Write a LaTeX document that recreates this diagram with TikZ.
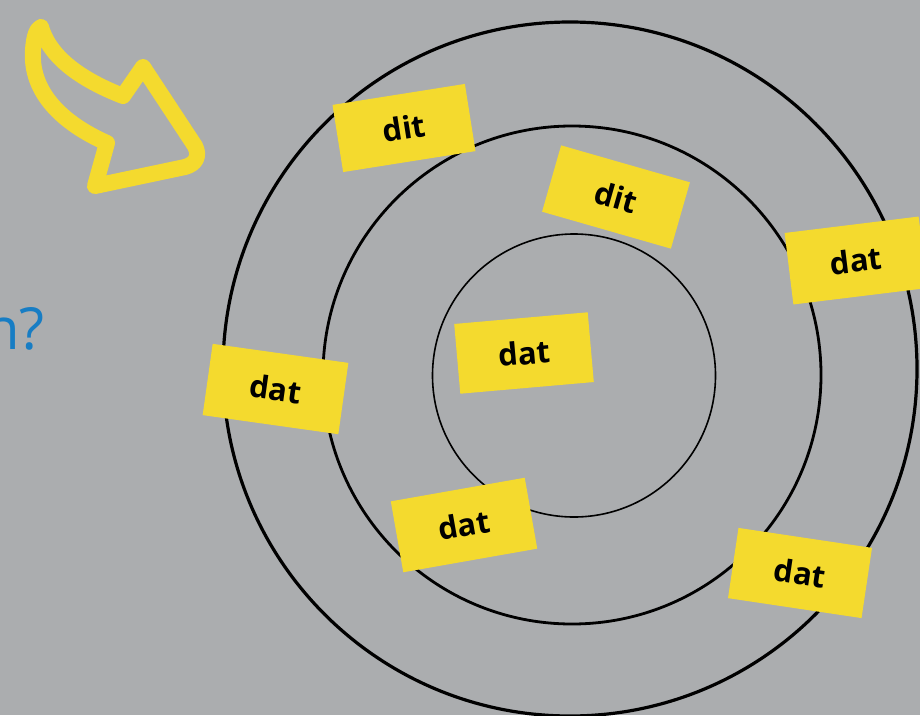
\documentclass[tikz,border=0pt]{standalone}
\usepackage{fontspec}
\setmainfont{Open Sans}
\definecolor{bg}{RGB}{171,173,175}
\definecolor{yel}{RGB}{244,218,46}
\definecolor{qblue}{RGB}{23,125,196}
\begin{document}
\begin{tikzpicture}[x=1pt,y=-1pt,
  card/.style={fill=yel, draw=none, inner sep=0pt, minimum width=135pt, minimum height=71pt,
    font=\fontsize{31}{31}\selectfont\bfseries, text=black},
  ring/.style={draw=black},
  curvearrow/.style={draw=yel, line width=16pt, line join=round, line cap=round}]
\clip (0,0) rectangle (920,715);
\fill[bg] (0,0) rectangle (920,715);
% rings
\draw[ring, line width=3.2pt] (570,369) circle[radius=347pt];
\draw[ring, line width=2.8pt] (572,375) circle[radius=249pt];
\draw[ring, line width=1.6pt] (574,375.5) circle[radius=141.5pt];
% cards
\node[card, rotate=9, minimum width=134pt, minimum height=68pt] (d1) at (404,128) {dit};
\node[card, rotate=-16, minimum width=134pt, minimum height=69pt] (d2) at (616,197) {dit};
\node[card, rotate=7, minimum height=72pt] (a1) at (856,260.5) {dat};
\node[card, rotate=5, minimum width=134pt, minimum height=70pt] (a2) at (524,353) {dat};
\node[card, rotate=-8, minimum width=137pt, minimum height=72pt] (a3) at (275.5,389) {dat};
\node[card, rotate=10, minimum width=136pt, minimum height=72pt] (a4) at (464,525) {dat};
\node[card, rotate=-8.5] (a5) at (800,573) {dat};
% question text
\node[anchor=base east, text=qblue, inner sep=0pt, font=\fontsize{58}{58}\selectfont] (q) at (45,349) {n?};
% curved outline arrow
\draw[curvearrow] (41,27) .. controls (50,58) and (82,80) .. (123,96)
  -- (143,67) -- (195,146) .. controls (200,156) and (196,164) .. (185,167)
  -- (95,186) -- (107,143) .. controls (62,123) and (30,92) .. (33,50)
  .. controls (34,35) and (37,29) .. cycle;
\end{tikzpicture}
\end{document}
